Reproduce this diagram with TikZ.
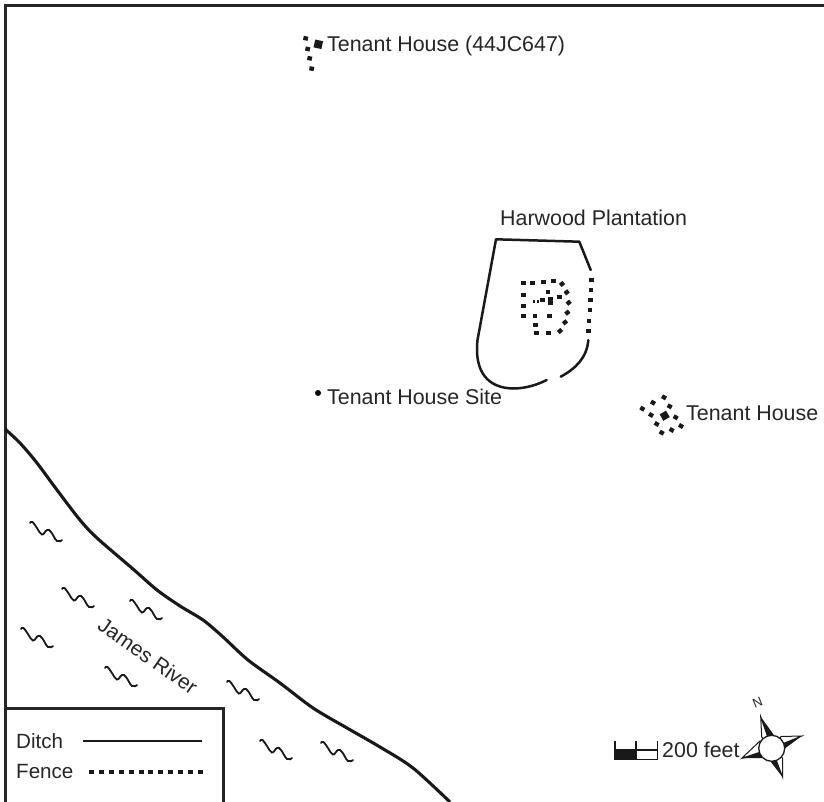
\documentclass[tikz,border=0pt]{standalone}
\usepackage{fontspec}
\setmainfont{Liberation Sans}
\tikzset{
  x=1pt,y=-1pt,
  label text/.style={inner sep=0pt,font=\fontsize{21.4}{24}\selectfont,text=black!85,anchor=base west},
  frame line/.style={line width=3pt,draw=black!85},
  ditch line/.style={line width=2.5pt,draw=black!90,line cap=round,line join=round},
  river line/.style={line width=3.1pt,draw=black!90,line join=round},
  wave line/.style={line width=1.8pt,draw=black!90,line cap=round},
  fence dot/.style={fill=black!90},
  squiggle/.pic={\draw[wave line] plot[smooth,tension=0.8] coordinates {(0,0) (2.5,-1) (7,5) (12,11.5) (17,7) (21,9) (27,18) (32,17)};}
}
\newcommand{\sqdots}[4]{\foreach \a/\b in {#4} \fill[fence dot,rotate around={#3:(#1+\a/3,#2+\b/3)}] (#1+\a/3-2.3,#2+\b/3-2.1) rectangle ++(4.6,4.2);}
\begin{document}
\begin{tikzpicture}
\useasboundingbox (0,0) rectangle (824,802);
\clip (0,0) rectangle (824,802);
\fill[white] (0,0) rectangle (824,802);
% frame
\draw[frame line] (5,802) -- (5,5.5) -- (824,5.5);
% river
\draw[river line] plot[smooth,tension=0.5] coordinates {(5,429) (20,443) (37,463) (57,490) (80,520) (97,538) (133,569) (157,590) (180,606) (203,620) (222,636) (248,660) (280,683) (313,708) (347,728) (380,747) (413,768) (450,802)};
% waves
\foreach \x/\y in {30/523,62/589,130/601,21/629,105/668,227/682,260/741,321/743}
  \pic at (\x,\y) {squiggle};
\node[label text,anchor=center,rotate=-35,font=\fontsize{20.8}{24}\selectfont] (river) at (148,656) {James River};
% north tenant house
\sqdots{290}{20}{-12}{47/55,53/87,59/115,65/146}
\fill[fence dot,rotate around={-12:(318.3,44.3)}] (314.3,40.3) rectangle (322.3,48.3);
\node[label text] (tn) at (327,52) {Tenant House (44JC647)};
% plantation
\node[label text] (hp) at (500,226) {Harwood Plantation};
\draw[ditch line] (590.7,270) -- (579.3,241.7) -- (496,239.3) -- (477.5,340)
  .. controls (474,372) and (488,388) .. (513,388.5)
  .. controls (525,388.5) and (537,385) .. (546.7,380);
\draw[ditch line] (560.7,376.7) .. controls (575,369) and (587,358) .. (588.3,340);
\sqdots{470}{220}{0}{365/180,363/211,361/241,360/271,357/303,355/333}
\sqdots{470}{220}{0}{160/190,188/188,220/186,250/184,160/288,160/258,160/224,234/216,218/240,268/230,238/288,195/288,197/314,199/340,235/338}
\sqdots{470}{220}{40}{276/192,290/217,296/248,292/278,285/307,270/333}
\fill[fence dot] (469.5+190/3,220+240/3) rectangle ++(2.5,2.5);
\fill[fence dot] (469.5+202/3,220+240/3) rectangle ++(2.5,2.5);
\fill[fence dot] (547.7,297) rectangle (553,305);
% site
\fill[black] (318,393) circle (3);
\node[label text] (ts) at (327,404) {Tenant House Site};
% east tenant house
\sqdots{620}{380}{-30}{67/86,99/68,132/52,149/79,167/112,183/138,155/150,125/158,110/132,93/105}
\fill[fence dot,rotate around={30:(664.7,415.7)}] (661,412) rectangle (668.4,419.4);
\node[label text] (te) at (686,420) {Tenant House};
% legend
\draw[frame line,fill=white] (5,805) -- (5,708.5) -- (223,708.5) -- (223,805);
\node[label text,font=\fontsize{20.6}{24}\selectfont] (ld) at (16,748) {Ditch};
\node[label text,font=\fontsize{20.6}{24}\selectfont] (lf) at (16,778) {Fence};
\coordinate (da) at (83,741); \coordinate (db) at (202,741);
\coordinate (fa) at (89,771.7); \coordinate (fb) at (207,771.7);
\draw[line width=2pt,black!90] (da) -- (db);
\draw[line width=3.6pt,black!90,dash pattern=on 5pt off 4.9pt] (fa) -- (fb);
% scale
\fill[black!90] (614.7,750) rectangle (636,759.3);
\draw[line width=1.2pt,black!90] (615,740.7) -- (615,759.3) -- (657.3,759.3) -- (657.3,740.7) (636,740.7) -- (636,759.3) (615,750) -- (657.3,750);
\node[label text] (sc) at (662,757) {200 feet};
% compass
\coordinate (cc) at (771.7,748.3);
\foreach \tx/\ty/\lx/\ly/\rx/\ry in {760.7/716.7/761.7/737/773.5/734.5, 801.7/736/781/736.5/785.5/748, 782.7/777.3/782.5/758/770.5/761.5, 741.7/758.3/760/741/762/758}{
  \draw[line width=1pt,black!90,fill=white,line join=miter] (\tx,\ty) -- (\lx,\ly) -- (cc) -- cycle;
  \fill[black!90] (\tx,\ty) -- (\rx,\ry) -- (cc) -- cycle;
}
\draw[line width=1.3pt,black!90,fill=white] (cc) circle (13);
\node[inner sep=0pt,rotate=22,font=\fontsize{13}{14}\selectfont,text=black!85] (north) at (757.5,702.5) {N};
\end{tikzpicture}
\end{document}
